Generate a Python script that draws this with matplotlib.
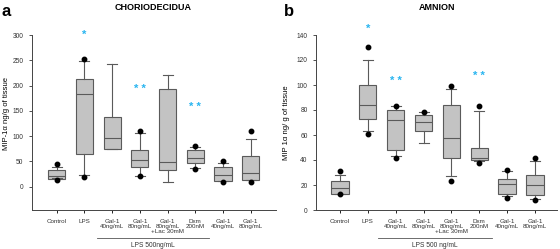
import matplotlib
matplotlib.use("Agg")
import matplotlib.pyplot as plt

plt.rcParams["font.family"] = ["Liberation Sans", "DejaVu Sans"]

labels = ["Control", "LPS", "Gal-1\n40ng/mL", "Gal-1\n80ng/mL", "Gal-1\n80ng/mL\n+Lac 30mM",
          "Dxm\n200nM", "Gal-1\n40ng/mL", "Gal-1\n80ng/mL"]

# CHORIODECIDUA (panel a)
a_q1 = [16, 65, 74, 40, 34, 47, 12, 14]
a_med = [22, 183, 96, 53, 49, 56, 23, 27]
a_q3 = [34, 213, 138, 72, 193, 72, 39, 61]
a_lo = [17, 23, 74, 22, 9, 37, 11, 13]
a_hi = [40, 248, 242, 107, 221, 78, 47, 94]
a_out = [[44, 13], [252, 20], [], [110, 21], [], [80, 36], [50, 10], [111, 10]]
a_stars = [None, ("*", 300), None, ("* *", 194), None, ("* *", 157), None, None]

# AMNION (panel b)
b_q1 = [13, 73, 48, 63, 42, 40, 13, 12]
b_med = [18, 84, 72, 70, 58, 42, 21, 20]
b_q3 = [23, 100, 80, 76, 84, 50, 25, 28]
b_lo = [13, 63, 43, 54, 27, 39, 11, 9]
b_hi = [28, 120, 83, 78, 97, 79, 31, 39]
b_out = [[31, 13], [130, 61], [83, 42], [78], [99, 23], [83, 38], [32, 10], [42, 8]]
b_stars = [None, ("*", 145), ("* *", 103), None, None, ("* *", 107), None, None]

BOX = "#c3c3c3"
EDGE = "#5a5a5a"
STAR = "#29b5f0"


def draw_panel(ax, q1, med, q3, lo, hi, out, stars, ylim, yticks):
    stats = []
    for i in range(len(labels)):
        stats.append({"q1": q1[i], "med": med[i], "q3": q3[i], "whislo": lo[i],
                      "whishi": hi[i], "fliers": out[i]})
    pos = list(range(1, len(labels) + 1))
    ax.bxp(stats, positions=pos, widths=0.62, capwidths=0.36, patch_artist=True,
           boxprops=dict(facecolor=BOX, edgecolor=EDGE, linewidth=0.8),
           medianprops=dict(color=EDGE, linewidth=0.8),
           whiskerprops=dict(color=EDGE, linewidth=0.8),
           capprops=dict(color=EDGE, linewidth=0.8),
           flierprops=dict(marker="o", markerfacecolor="black", markeredgecolor="black",
                           markersize=3.2))
    for p, s in zip(pos, stars):
        if s:
            ax.text(p, s[1], s[0], color=STAR, ha="center", va="center", fontsize=8,
                    fontweight="bold")
    ax.set_ylim(*ylim)
    ax.set_yticks(yticks)
    ax.set_xticks(pos)
    ax.set_xticklabels(labels, fontsize=4.5, color="#333333", linespacing=1.05)
    ax.tick_params(axis="y", labelsize=4.8, colors="#333333", length=2.5, width=0.6)
    ax.tick_params(axis="x", length=2.5, width=0.6, pad=4)
    for sp in ["top", "right"]:
        ax.spines[sp].set_visible(False)
    for sp in ["left", "bottom"]:
        ax.spines[sp].set_color("#444444")
        ax.spines[sp].set_linewidth(0.7)


fig = plt.figure(figsize=(5.6, 2.49), dpi=100)
ax1 = fig.add_axes([31.7 / 560, 39 / 249, (276 - 31.7) / 560, 175 / 249])
ax2 = fig.add_axes([316 / 560, 39 / 249, (557 - 316) / 560, 175 / 249])

draw_panel(ax1, a_q1, a_med, a_q3, a_lo, a_hi, a_out, a_stars, (-46, 300),
           [0, 50, 100, 150, 200, 250, 300])
ax1.set_xlim(0.1, 8.91)
ax1.set_ylabel("MIP-1\u03b1 ng/g of tissue", fontsize=5.5)
ax1.yaxis.set_label_coords(-(31.7 - 10) / 244.3, 0.55)

draw_panel(ax2, b_q1, b_med, b_q3, b_lo, b_hi, b_out, b_stars, (0, 140),
           [0, 20, 40, 60, 80, 100, 120, 140])
ax2.set_xlim(0.14, 8.79)
ax2.set_ylabel("MIP 1\u03b1 ng/ g of tissue", fontsize=5.5)
ax2.yaxis.set_label_coords(-(316 - 290) / 241, 0.5)

# LPS bracket below tick labels
for x0, x1, txt in [(96.7, 209, "LPS 500ng/mL"), (378, 491.7, "LPS 500 ng/mL")]:
    fig.add_artist(plt.Line2D([x0 / 560, x1 / 560], [1 - 237.5 / 249] * 2,
                              color="#555555", linewidth=0.6))
    fig.text((x0 + x1) / 2 / 560, 1 - 245 / 249, txt, fontsize=4.8, color="#333333",
             ha="center", va="center")

fig.text(153 / 560, 1 - 7 / 249, "CHORIODECIDUA", fontsize=6.5, fontweight="bold",
         ha="center", va="center")
fig.text(437 / 560, 1 - 7 / 249, "AMNION", fontsize=6.5, fontweight="bold",
         ha="center", va="center")
fig.text(2 / 560, 1 - 11 / 249, "a", fontsize=12, fontweight="bold", ha="left", va="center")
fig.text(284 / 560, 1 - 11 / 249, "b", fontsize=12, fontweight="bold", ha="left", va="center")

fig.savefig("out.png", dpi=100)
